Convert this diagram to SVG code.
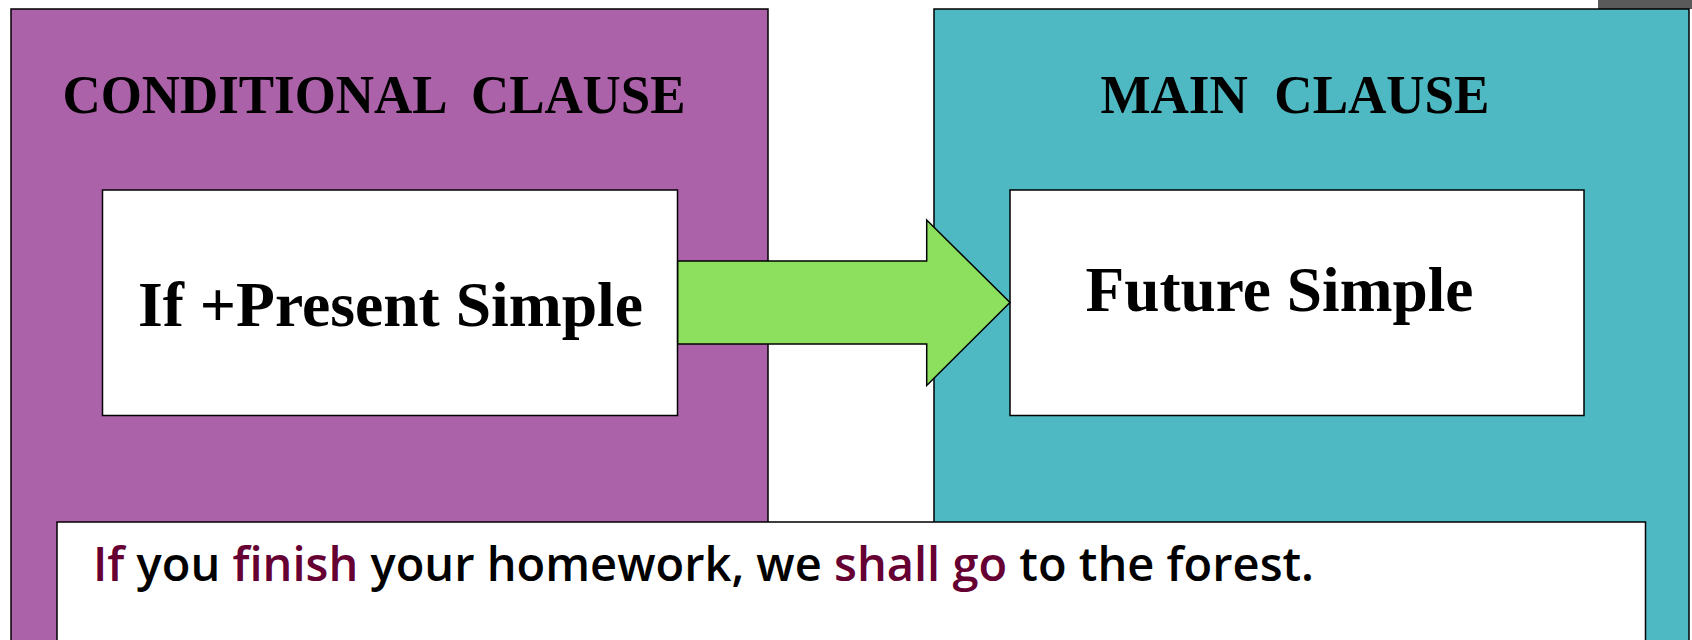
<svg xmlns="http://www.w3.org/2000/svg" width="1692" height="640" viewBox="0 0 1692 640">
<style>
.panel{stroke:#000;stroke-width:1.5}
.box{fill:#fff;stroke:#000;stroke-width:1.5}
.title{font-family:"Liberation Serif","Times New Roman",serif;font-weight:bold;font-size:55px;fill:#000}
.label{font-family:"Liberation Serif","Times New Roman",serif;font-weight:bold;font-size:63px;fill:#000}
.sent{font-family:"Open Sans","Noto Sans",sans-serif;font-weight:600;font-size:47px;fill:#000}
.hl{fill:#660033}
</style>
<rect x="0" y="0" width="1692" height="640" fill="#fff"/>
<rect x="1598" y="0" width="94" height="9" fill="#5a5a5a"/>
<g id="conditional-clause">
<rect class="panel" x="11" y="9" width="757" height="640" fill="#AC62A8"/>
<text class="title" x="62.5" y="113" textLength="623" lengthAdjust="spacingAndGlyphs" xml:space="preserve">CONDITIONAL  CLAUSE</text>
</g>
<g id="main-clause">
<rect class="panel" x="934" y="9" width="755" height="640" fill="#4FB9C3"/>
<text class="title" x="1100.5" y="113" textLength="389" lengthAdjust="spacingAndGlyphs" xml:space="preserve">MAIN  CLAUSE</text>
</g>
<g id="if-present-simple">
<rect class="box" x="102.5" y="190" width="575" height="225.5"/>
<text class="label" x="138" y="326" textLength="505" lengthAdjust="spacingAndGlyphs">If +Present Simple</text>
</g>
<g id="future-simple">
<rect class="box" x="1010" y="190" width="574" height="225.5"/>
<text class="label" x="1085.5" y="310.5" textLength="388" lengthAdjust="spacingAndGlyphs">Future Simple</text>
</g>
<g id="connectors">
<polygon points="677.7,261 926.7,261 926.7,220 1010,302.5 926.7,385.5 926.7,344 677.7,344" fill="#8CE05D" stroke="#000" stroke-width="1.5"/>
</g>
<g id="example">
<rect class="box" x="57" y="522" width="1588.5" height="140"/>
<text class="sent" x="93" y="580.5" textLength="1221" lengthAdjust="spacingAndGlyphs"><tspan class="hl">If</tspan> you <tspan class="hl">finish</tspan> your homework, we <tspan class="hl">shall go</tspan> to the forest.</text>
</g>
</svg>
